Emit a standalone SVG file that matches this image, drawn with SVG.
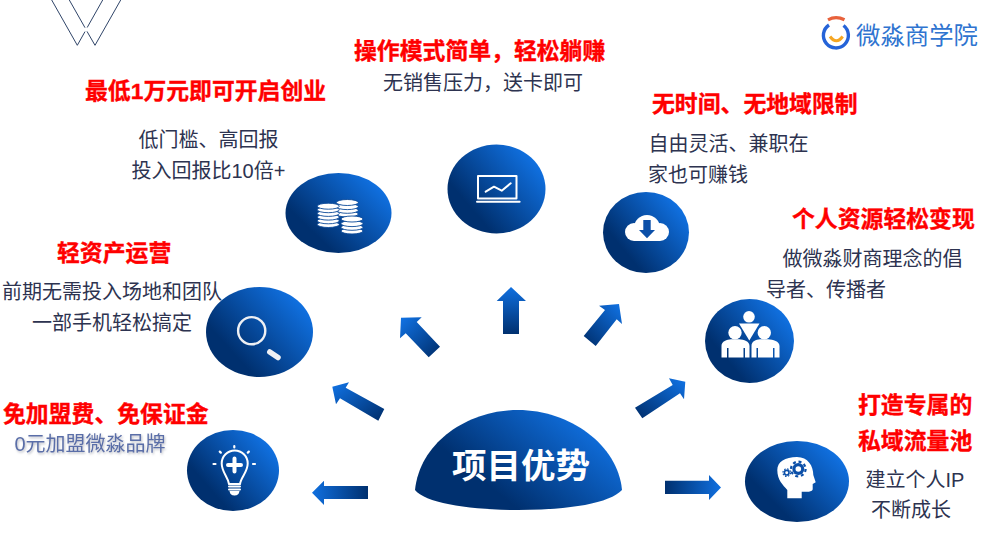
<svg xmlns="http://www.w3.org/2000/svg" width="1001" height="541" viewBox="0 0 1001 541">
<style>
text{font-family:"Liberation Sans","Noto Sans CJK SC",sans-serif}
.h{font-size:22.85px;font-weight:700;fill:#ff0000;stroke:#ff0000;stroke-width:.35}
.b{font-size:20px;fill:#2d3350}
.w{fill:#fff}
.ws{fill:none;stroke:#fff;stroke-linecap:round;stroke-linejoin:round}
.coin{fill:#fff;stroke:#0b4a98;stroke-width:.9}
.blue{fill:#0b4fa8}
</style>
<defs>
<linearGradient id="disc" x1="0.12" y1="0.8" x2="0.9" y2="0.2"><stop offset="0.15" stop-color="#00306f"/><stop offset="1" stop-color="#1070e0"/></linearGradient>
<linearGradient id="dome" x1="0.2" y1="0.75" x2="0.95" y2="0.3"><stop offset="0.15" stop-color="#00306f"/><stop offset="1" stop-color="#1070e0"/></linearGradient>
<linearGradient id="aUp" x1="0" y1="1" x2="0" y2="0"><stop offset="0" stop-color="#00306f"/><stop offset="1" stop-color="#1070e0"/></linearGradient>
<linearGradient id="aR" x1="0" y1="0" x2="1" y2="0"><stop offset="0" stop-color="#00306f"/><stop offset="1" stop-color="#1070e0"/></linearGradient>
<linearGradient id="aL" x1="1" y1="0" x2="0" y2="0"><stop offset="0" stop-color="#00306f"/><stop offset="1" stop-color="#1070e0"/></linearGradient>
<linearGradient id="aUL" x1="1" y1="1" x2="0" y2="0"><stop offset="0.05" stop-color="#00306f"/><stop offset="0.95" stop-color="#1070e0"/></linearGradient>
<linearGradient id="aUR" x1="0" y1="1" x2="1" y2="0"><stop offset="0.05" stop-color="#00306f"/><stop offset="0.95" stop-color="#1070e0"/></linearGradient>
<filter id="soft" x="-5%" y="-20%" width="110%" height="150%"><feDropShadow dx="1" dy="1.5" stdDeviation="0.8" flood-color="#8a8f9c" flood-opacity="0.6"/></filter>
<g id="gear"><circle r="6" fill="#0b4fa8"/><circle r="7.3" fill="none" stroke="#0b4fa8" stroke-width="2.2" stroke-dasharray="3 2.73"/><circle r="2.8" fill="#fff"/></g>
</defs>

<g id="brand-mark" fill="none" stroke="#2f4468" stroke-width="1">
<path d="M51.7 0L77.3 45.3L85 31.6M87.2 27.5L102.7 0"/>
<path d="M69.3 0L85 27.7M87 31.4L95 45.3L120.7 0"/>
</g>

<g id="logo">
<path d="M829 25A12.5 12.5 0 1 0 843.5 25.5" fill="none" stroke="#2563d8" stroke-width="3.4"/>
<path d="M828 19.8Q836 15.5 844.5 19.8" fill="none" stroke="#e8623c" stroke-width="3.2"/>
<path d="M830 36.5Q836.3 45 842.7 36.5" fill="none" stroke="#f5a623" stroke-width="3"/>
<text x="856" y="44" font-size="24.4" fill="#2f74d0">微淼商学院</text>
</g>

<g id="connectors">
<path fill="url(#aL)" d="M312 492.7L324 480.7V486H368V499H324V505Z"/>
<path fill="url(#aR)" d="M665 480.7H709V475L721 487.5L709 500V494H665Z"/>
<path fill="url(#aUp)" d="M511 287L526 301H519V334H503V301H496.7Z"/>
<path fill="url(#aUL)" d="M401 317.7L421.7 317.3L416.7 322L440 346.7L428.7 357.3L405.7 333.3L400 338.3Z"/>
<path fill="url(#aUR)" d="M619 304L622 324L616.7 319.3L595.7 346L583.7 336L605 310L599 305.7Z"/>
<path fill="url(#aUL)" d="M332.3 386.7L349 382.3L345.7 387.7L384.3 409L378.3 420.7L340 398.3L336 404.3Z"/>
<path fill="url(#aUR)" d="M685.3 381.7L669 378.3L672.7 385L635 407.7L642.3 418.3L680 393.3L684 399.3Z"/>
</g>

<g id="node-center">
<path fill="url(#dome)" d="M415 490C420 442 468 410 518 410C570 410 618 445 622 490C610 503 570 510 518 510C470 510 425 503 415 490Z"/>
<text x="452" y="478" font-size="34.5" font-weight="700" class="w">项目优势</text>
</g>

<g id="node-funds">
<text x="85" y="99" class="h">最低1万元即可开启创业</text>
<text x="138.5" y="147" class="b">低门槛、高回报</text>
<text x="131.5" y="178" class="b">投入回报比10倍+</text>
<ellipse cx="338.5" cy="213" rx="53" ry="40" fill="url(#disc)"/>
<g class="coin">
<ellipse cx="347.3" cy="214" rx="11" ry="3"/><ellipse cx="347.3" cy="210.3" rx="11" ry="3"/><ellipse cx="347.3" cy="206.6" rx="11" ry="3"/><ellipse cx="347.3" cy="202.5" rx="11" ry="3"/>
<ellipse cx="328.3" cy="224.5" rx="11" ry="3"/><ellipse cx="328.3" cy="220.8" rx="11" ry="3"/><ellipse cx="328.3" cy="217.1" rx="11" ry="3"/><ellipse cx="328.3" cy="213.4" rx="11" ry="3"/><ellipse cx="328.3" cy="209.7" rx="11" ry="3"/><ellipse cx="328.3" cy="206.2" rx="11" ry="3"/>
<ellipse cx="352" cy="231" rx="11" ry="3"/><ellipse cx="352" cy="227.3" rx="11" ry="3"/><ellipse cx="352" cy="223.6" rx="11" ry="3"/><ellipse cx="352" cy="219" rx="11" ry="3"/>
</g>
</g>

<g id="node-mode">
<text x="354" y="59" class="h">操作模式简单，轻松躺赚</text>
<text x="383" y="90" class="b">无销售压力，送卡即可</text>
<ellipse cx="496.5" cy="189" rx="49" ry="44.5" fill="url(#disc)"/>
<rect x="478" y="176" width="38.5" height="22.5" class="ws" stroke-width="2" stroke-linejoin="miter"/>
<path d="M477 201.7H519.6" class="ws" stroke-width="2"/>
<path d="M485.7 191.7L494 186.7L501.7 190.7L510.7 183.3" class="ws" stroke-width="2"/>
</g>

<g id="node-time">
<text x="652" y="112" class="h">无时间、无地域限制</text>
<text x="648.5" y="151" class="b">自由灵活、兼职在</text>
<text x="648" y="182" class="b">家也可赚钱</text>
<ellipse cx="646" cy="232.5" rx="43" ry="40.5" fill="url(#disc)"/>
<circle cx="647" cy="228" r="13" class="w"/><circle cx="634" cy="232" r="9" class="w"/><circle cx="660" cy="232" r="9" class="w"/>
<rect x="634" y="228" width="26" height="13" class="w"/>
<path class="blue" d="M643.3 220H650.7V230H655L647 238.3L639 230H643.3Z"/>
</g>

<g id="node-resources">
<text x="792" y="227" class="h">个人资源轻松变现</text>
<text x="782.5" y="265.5" class="b">做微淼财商理念的倡</text>
<text x="766" y="296.5" class="b">导者、传播者</text>
<ellipse cx="749.5" cy="341" rx="44.5" ry="42" fill="url(#disc)"/>
<circle cx="749" cy="316.8" r="5.8" class="w"/>
<path class="w" d="M739 323.5H759.5L749.3 340.5Z"/>
<circle cx="735" cy="332.7" r="6.7" class="w"/><circle cx="764.3" cy="332.7" r="6.7" class="w"/>
<path class="w" d="M721.5 357.5V346C721.5 341 727 339.5 731 339.2H739C744 339.5 749.5 341 749.5 346V357.5H745V348H743.5V357.5H728.5V348H727V357.5Z"/>
<path class="w" d="M751.5 357.5V346C751.5 341 756 339.5 760 339.2H768C773 339.5 779.5 341 779.5 346V357.5H774.5V348H773V357.5H758V348H756.5V357.5Z"/>
</g>

<g id="node-pool">
<text x="858" y="413" class="h">打造专属的</text>
<text x="858" y="449" class="h">私域流量池</text>
<text x="865.5" y="486.5" class="b">建立个人IP</text>
<text x="871" y="516.5" class="b">不断成长</text>
<ellipse cx="797" cy="481.5" rx="52" ry="40.5" fill="url(#disc)"/>
<path class="w" d="M787.3 498.3V490C783 485 777.3 480 777.3 470C777.3 462 785 457 797 457C808 457 813.3 466 813.3 475L815.7 482.3L812.7 484V489C812.7 491 810 491.7 808.3 491.7H801.7V498.3Z"/>
<use href="#gear" transform="translate(798.3 469)"/>
<use href="#gear" transform="translate(786.7 472.7) scale(.52)"/>
</g>

<g id="node-asset">
<text x="57" y="261" class="h">轻资产运营</text>
<text x="2" y="298.5" class="b">前期无需投入场地和团队</text>
<text x="32" y="329.5" class="b">一部手机轻松搞定</text>
<ellipse cx="259.5" cy="332" rx="53.5" ry="45" fill="url(#disc)"/>
<circle cx="251.7" cy="330.7" r="13.6" fill="none" stroke="#eef0f4" stroke-width="2.4"/>
<path d="M269.8 352L278 357.5" fill="none" stroke="#eef0f4" stroke-width="5.5" stroke-linecap="round"/>
</g>

<g id="node-free">
<text x="3" y="422" class="h">免加盟费、免保证金</text>
<text x="14.5" y="451" class="b" style="fill:#5a6ea8" filter="url(#soft)">0元加盟微淼品牌</text>
<ellipse cx="233" cy="470.5" rx="46" ry="40.5" fill="url(#disc)"/>
<path class="ws" stroke-width="2" d="M229 484C228 477 221.7 472 221.7 463.5A13 13 0 0 1 247.7 463.5C247.7 472 241 477 240 484Z"/>
<path class="ws" stroke-width="4" d="M234.5 458.5V471.5M228 465H241"/>
<path class="ws" stroke-width="2" d="M229 486.5H240M229 489.5H240"/>
<path class="w" d="M229.5 491H239.5C239 495 236 495.5 234.5 495.5C233 495.5 230 495 229.5 491Z"/>
<path class="ws" stroke-width="2.2" d="M234.3 446V447.5M219.8 451.6L220.8 452.6M248.8 451.6L247.8 452.6M213.5 464H215.5M253 464H255"/>
</g>
</svg>
